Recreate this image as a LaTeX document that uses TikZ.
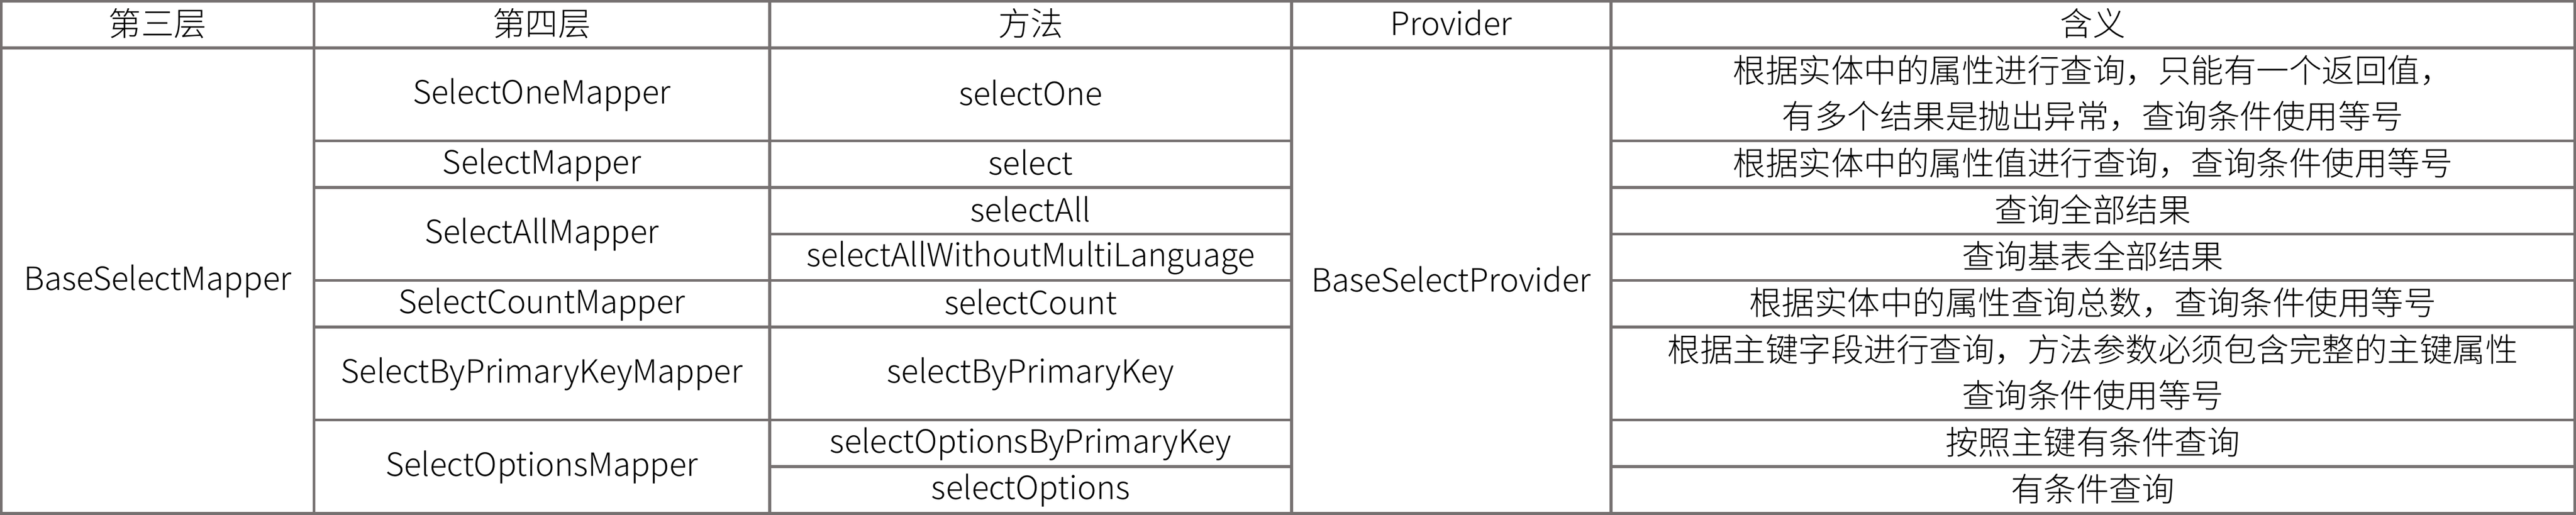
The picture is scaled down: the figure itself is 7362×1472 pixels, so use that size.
\documentclass[tikz,border=0pt]{standalone}
\usepackage{fontspec}
\IfFontExistsTF{Noto Sans CJK SC Light}{\setmainfont{Noto Sans CJK SC Light}}{\setmainfont{Noto Sans CJK SC}}
\definecolor{gridgray}{RGB}{118,113,113}
\newcommand\cstrut{\rule[-1.4pt]{0pt}{9pt}}
\begin{document}
\begin{tikzpicture}[x=0.1pt,y=-0.1pt]
\tikzset{
  tablerule/.style={draw=gridgray, line width=0.8pt},
  cell/.style={inner sep=0pt, font=\fontsize{9.35}{13.1}\selectfont, text=black, align=center},
  latcell/.style={cell, font=\fontsize{9.15}{13.1}\selectfont},
}
\useasboundingbox (0,0) rectangle (7362,1472);
% grid
\draw[tablerule] (4,4) rectangle (7358,1468);
\foreach \cx in {897,2200,3691,4604} \draw[tablerule] (\cx,4) -- (\cx,1468);
\draw[tablerule] (4,137) -- (7358,137);
\foreach \ry in {403,536,802,935,1201} {
  \draw[tablerule] (897,\ry) -- (3691,\ry);
  \draw[tablerule] (4604,\ry) -- (7358,\ry);
}
\foreach \ry in {669,1334} {
  \draw[tablerule] (2200,\ry) -- (3691,\ry);
  \draw[tablerule] (4604,\ry) -- (7358,\ry);
}
% header
\node[cell] (h1) at (450.5,70.5) {\cstrut 第三层};
\node[cell] (h2) at (1548.5,70.5) {\cstrut 第四层};
\node[cell] (h3) at (2945.5,70.5) {\cstrut 方法};
\node[latcell] (h4) at (4147.5,70.5) {\cstrut Provider};
\node[cell] (h5) at (5981,70.5) {\cstrut 含义};
% column 1
\node[latcell] (l3) at (450.5,802.5) {\cstrut BaseSelectMapper};
% column 2
\node[latcell] (m1) at (1548.5,270) {\cstrut SelectOneMapper};
\node[latcell] (m2) at (1548.5,469.5) {\cstrut SelectMapper};
\node[latcell] (m3) at (1548.5,669) {\cstrut SelectAllMapper};
\node[latcell] (m4) at (1548.5,868.5) {\cstrut SelectCountMapper};
\node[latcell] (m5) at (1548.5,1068) {\cstrut SelectByPrimaryKeyMapper};
\node[latcell] (m6) at (1548.5,1334.5) {\cstrut SelectOptionsMapper};
% column 3
\node[latcell] (f1) at (2945.5,270) {\cstrut selectOne};
\node[latcell] (f2) at (2945.5,469.5) {\cstrut select};
\node[latcell] (f3) at (2945.5,602.5) {\cstrut selectAll};
\node[latcell] (f4) at (2945.5,735.5) {\cstrut selectAllWithoutMultiLanguage};
\node[latcell] (f5) at (2945.5,868.5) {\cstrut selectCount};
\node[latcell] (f6) at (2945.5,1068) {\cstrut selectByPrimaryKey};
\node[latcell] (f7) at (2945.5,1267.5) {\cstrut selectOptionsByPrimaryKey};
\node[latcell] (f8) at (2945.5,1401) {\cstrut selectOptions};
% column 4
\node[latcell] (p1) at (4147.5,802.5) {\cstrut BaseSelectProvider};
% column 5
\node[cell] (d1) at (5981,270) {\cstrut 根据实体中的属性进行查询，只能有一个返回值，\\\cstrut 有多个结果是抛出异常，查询条件使用等号};
\node[cell] (d2) at (5981,469.5) {\cstrut 根据实体中的属性值进行查询，查询条件使用等号};
\node[cell] (d3) at (5981,602.5) {\cstrut 查询全部结果};
\node[cell] (d4) at (5981,735.5) {\cstrut 查询基表全部结果};
\node[cell] (d5) at (5981,868.5) {\cstrut 根据实体中的属性查询总数，查询条件使用等号};
\node[cell] (d6) at (5981,1068) {\cstrut 根据主键字段进行查询，方法参数必须包含完整的主键属性\\\cstrut 查询条件使用等号};
\node[cell] (d7) at (5981,1267.5) {\cstrut 按照主键有条件查询};
\node[cell] (d8) at (5981,1401) {\cstrut 有条件查询};
\end{tikzpicture}
\end{document}
